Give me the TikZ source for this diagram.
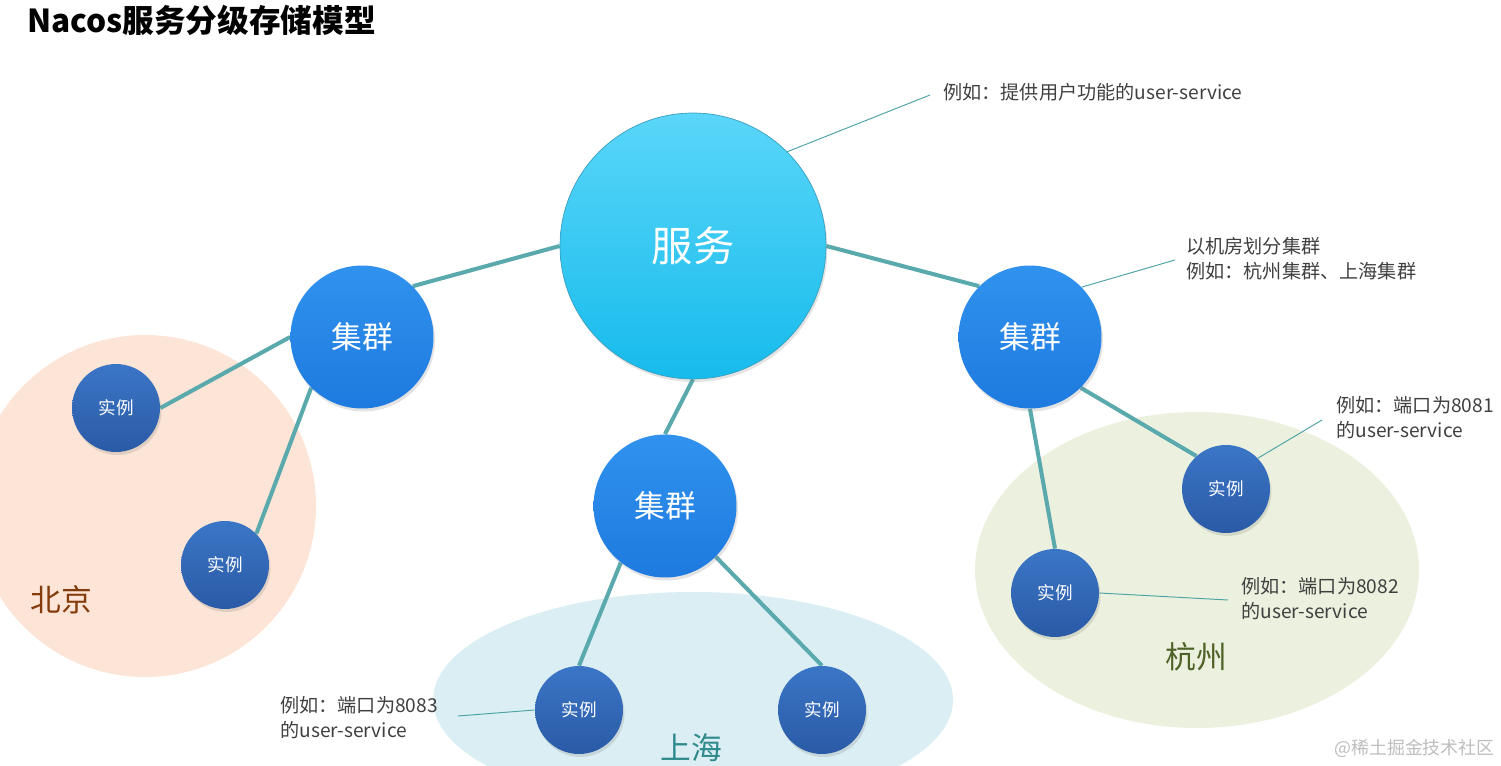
\documentclass[tikz,border=0pt]{standalone}
\usepackage{fontspec}
\setmainfont{Noto Sans CJK SC}
\usetikzlibrary{shadows}
\definecolor{svcTop}{HTML}{5AD6F9}
\definecolor{svcBot}{HTML}{16BBEC}
\definecolor{svcLine}{HTML}{3A9FC0}
\definecolor{clTop}{HTML}{3092EE}
\definecolor{clBot}{HTML}{1E7ADF}
\definecolor{inTop}{HTML}{3B76C6}
\definecolor{inBot}{HTML}{2A5AA6}
\definecolor{linkc}{HTML}{5AA9AC}
\definecolor{annc}{HTML}{4FA3A5}
\definecolor{anntext}{HTML}{404040}
\definecolor{bjFill}{HTML}{FCE4D6}
\definecolor{shFill}{HTML}{DAEEF3}
\definecolor{hzFill}{HTML}{EBF1DE}
\definecolor{bjText}{HTML}{843C0C}
\definecolor{shText}{HTML}{2F8A8C}
\definecolor{hzText}{HTML}{4F6228}
\definecolor{wmText}{HTML}{BDBDBD}
\pgfdeclarelayer{regions}
\pgfdeclarelayer{links}
\pgfsetlayers{regions,links,main}
\tikzset{
  ballshadow/.style={drop shadow={opacity=0.22, shadow xshift=0.03cm, shadow yshift=-0.06cm}},
  svcnode/.style={circle, inner sep=0pt, minimum size=5.32cm, top color=svcTop, bottom color=svcBot,
    draw=svcLine, line width=0.4pt, text=white, font=\fontsize{23.5}{28}\selectfont, ballshadow},
  clnode/.style={circle, inner sep=0pt, minimum size=2.86cm, top color=clTop, bottom color=clBot,
    text=white, font=\fontsize{17.5}{21}\selectfont, ballshadow},
  instnode/.style={circle, inner sep=0pt, minimum size=1.76cm, top color=inTop, bottom color=inBot,
    text=white, font=\fontsize{10}{12}\selectfont, ballshadow},
  link/.style={draw=linkc, line width=2.3pt},
  annline/.style={draw=annc, line width=0.55pt},
  anntextstyle/.style={anchor=west, align=left, inner sep=0pt, text=anntext,
    font=\fontsize{10.9}{14.2}\selectfont},
  regionlabel/.style={inner sep=0pt, font=\fontsize{17.5}{21}\selectfont},
}
\begin{document}
\begin{tikzpicture}[x=0.02cm, y=-0.02cm]
\useasboundingbox (0,0) rectangle (1501,766);
\clip (0,0) rectangle (1501,766);

% regions
\begin{pgfonlayer}{regions}
  \fill[bjFill] (145,506) ellipse [x radius=171, y radius=171];
  \fill[shFill] (693,700) ellipse [x radius=260, y radius=108];
  \fill[hzFill] (1197,570) ellipse [x radius=222, y radius=158];
\end{pgfonlayer}

% title
\node[anchor=west, inner sep=0pt, font=\fontsize{18}{22}\selectfont\bfseries] (title) at (27,20) {Nacos服务分级存储模型};

% main nodes
\node[svcnode] (svc) at (693,246) {服务};
\node[clnode] (cl) at (362,337) {集群};
\node[clnode] (cm) at (665,506) {集群};
\node[clnode] (cr) at (1030,337) {集群};
\node[instnode] (b1) at (116,408) {实例};
\node[instnode] (b2) at (225,565) {实例};
\node[instnode] (s1) at (579,710) {实例};
\node[instnode] (s2) at (822,710) {实例};
\node[instnode] (h1) at (1226,489) {实例};
\node[instnode] (h2) at (1055,593) {实例};

% region labels
\node[regionlabel, text=bjText] (bj) at (61,600) {北京};
\node[regionlabel, text=shText] (sh) at (691,748) {上海};
\node[regionlabel, text=hzText] (hz) at (1196,657) {杭州};

% links
\begin{pgfonlayer}{links}
  \draw[link] (svc.west) -- (cl.45);
  \draw[link] (svc.east) -- (cr.135);
  \draw[link] (svc.south) -- (cm.north);
  \draw[link] (cl.west) -- (b1.east);
  \draw[link] (cl.225) -- (b2.45);
  \draw[link] (cm.232) -- (s1.north);
  \draw[link] (cm.-45) -- (s2.north);
  \draw[link] (cr.south) -- (h2.north);
  \draw[link] (cr.-45) -- (h1.132);
\end{pgfonlayer}

% annotations
\node[anntextstyle] (a1) at (943,92) {例如：提供用户功能的user-service};
\node[anntextstyle] (a2) at (1186,258.5) {以机房划分集群\\例如：杭州集群、上海集群};
\node[anntextstyle] (a3) at (1336,418) {例如：端口为8081\\的user-service};
\node[anntextstyle] (a4) at (1241,599) {例如：端口为8082\\的user-service};
\node[anntextstyle] (a5) at (280,717.5) {例如：端口为8083\\的user-service};

\coordinate (c1) at (930,95);
\coordinate (c2) at (1175,260);
\coordinate (c3) at (1322,420);
\coordinate (c4) at (1228,600);
\coordinate (c5) at (458,716);

\draw[annline] (svc.45) -- (c1);
\draw[annline] (cr.44) -- (c2);
\draw[annline] (h1.44) -- (c3);
\draw[annline] (h2.east) -- (c4);
\draw[annline] (s1.west) -- (c5);

% watermark
\node[anchor=east, inner sep=0pt, text=wmText, font=\fontsize{10.2}{12}\selectfont] (wm) at (1495,748) {@稀土掘金技术社区};
\end{tikzpicture}
\end{document}
